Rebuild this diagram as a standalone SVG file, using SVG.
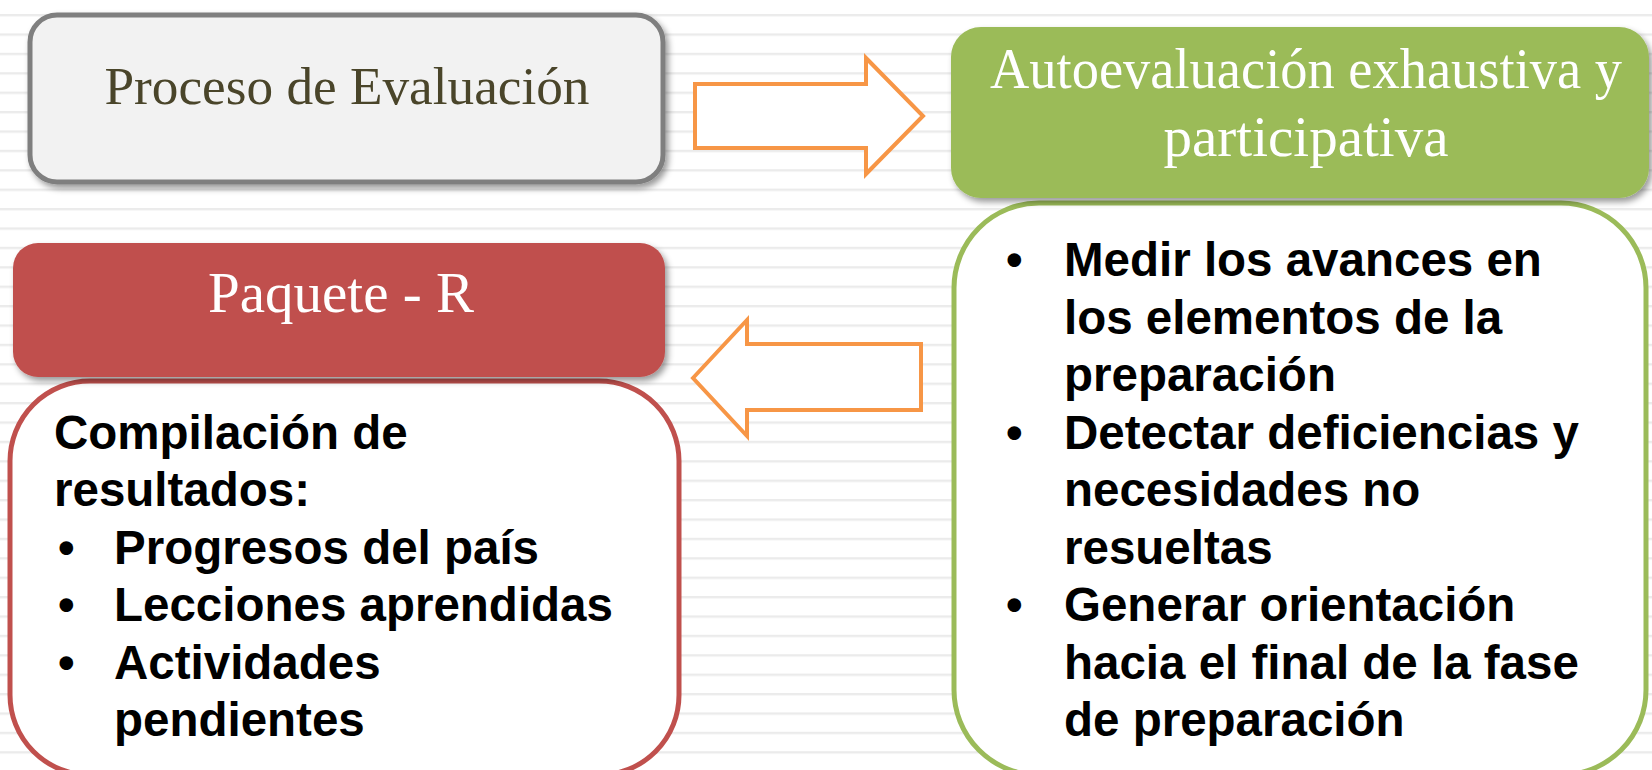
<svg xmlns="http://www.w3.org/2000/svg" width="1652" height="770" viewBox="0 0 1652 770">
  <defs>
    <pattern id="stripes" x="0" y="14" width="1652" height="19.4" patternUnits="userSpaceOnUse">
      <rect x="0" y="0" width="1652" height="2.4" fill="#ebebeb"/>
    </pattern>
    <filter id="shadow" x="-10%" y="-10%" width="120%" height="130%">
      <feDropShadow dx="3" dy="4" stdDeviation="3" flood-color="#000" flood-opacity="0.4"/>
    </filter>
  </defs>
  <style>
    .serif { font-family: "Liberation Serif", "DejaVu Serif", serif; }
    .body { font-family: "Liberation Sans", Arial, sans-serif; font-weight: bold; font-size: 47.5px; fill: #000; }
    .arrow { fill: #ffffff; stroke: #f79646; stroke-width: 4; stroke-linejoin: miter; }
  </style>

  <rect x="0" y="0" width="1652" height="770" fill="#ffffff"/>
  <rect x="0" y="0" width="1652" height="770" fill="url(#stripes)"/>

  <g id="node-proceso">
    <rect x="30" y="15" width="633" height="167" rx="27" ry="27" fill="#f2f2f2" stroke="#7f7f7f" stroke-width="5" filter="url(#shadow)"/>
    <text class="serif" x="347" y="104" font-size="53" fill="#4a452a" text-anchor="middle" textLength="485" lengthAdjust="spacingAndGlyphs">Proceso de Evaluación</text>
  </g>

  <g id="node-autoevaluacion-detalle">
    <rect x="954" y="203" width="692" height="572" rx="85" ry="85" fill="#ffffff" stroke="#9bbb59" stroke-width="5"/>
    <text class="body" x="1006" y="276">•</text>
    <text class="body" x="1064" y="276">Medir los avances en</text>
    <text class="body" x="1064" y="334">los elementos de la</text>
    <text class="body" x="1064" y="391">preparación</text>
    <text class="body" x="1006" y="449">•</text>
    <text class="body" x="1064" y="449">Detectar deficiencias y</text>
    <text class="body" x="1064" y="506">necesidades no</text>
    <text class="body" x="1064" y="564">resueltas</text>
    <text class="body" x="1006" y="621">•</text>
    <text class="body" x="1064" y="621">Generar orientación</text>
    <text class="body" x="1064" y="679">hacia el final de la fase</text>
    <text class="body" x="1064" y="736">de preparación</text>
  </g>

  <g id="node-autoevaluacion">
    <rect x="951" y="27" width="698" height="171" rx="30" ry="30" fill="#9bbb59" filter="url(#shadow)"/>
    <text class="serif" x="1306" y="88" font-size="57" fill="#ffffff" text-anchor="middle" textLength="632" lengthAdjust="spacingAndGlyphs">Autoevaluación exhaustiva y</text>
    <text class="serif" x="1306" y="156" font-size="57" fill="#ffffff" text-anchor="middle" textLength="285" lengthAdjust="spacingAndGlyphs">participativa</text>
  </g>

  <g id="node-paquete-detalle">
    <rect x="10" y="381" width="669" height="394" rx="80" ry="80" fill="#ffffff" stroke="#c0504d" stroke-width="5"/>
    <text class="body" x="54" y="449">Compilación de</text>
    <text class="body" x="54" y="506">resultados:</text>
    <text class="body" x="58" y="564">•</text>
    <text class="body" x="114" y="564">Progresos del país</text>
    <text class="body" x="58" y="621">•</text>
    <text class="body" x="114" y="621">Lecciones aprendidas</text>
    <text class="body" x="58" y="679">•</text>
    <text class="body" x="114" y="679">Actividades</text>
    <text class="body" x="114" y="736">pendientes</text>
  </g>

  <g id="node-paquete">
    <rect x="13" y="243" width="652" height="134" rx="25" ry="25" fill="#c0504d" filter="url(#shadow)"/>
    <text class="serif" x="341" y="312" font-size="56" fill="#ffffff" text-anchor="middle" textLength="266" lengthAdjust="spacingAndGlyphs">Paquete - R</text>
  </g>

  <g id="connectors">
    <polygon class="arrow" points="695,84 866,84 866,58 923,116 866,174 866,148 695,148"/>
    <polygon class="arrow" points="693,378 747,320 747,344 921,344 921,410 747,410 747,436"/>
  </g>
</svg>
